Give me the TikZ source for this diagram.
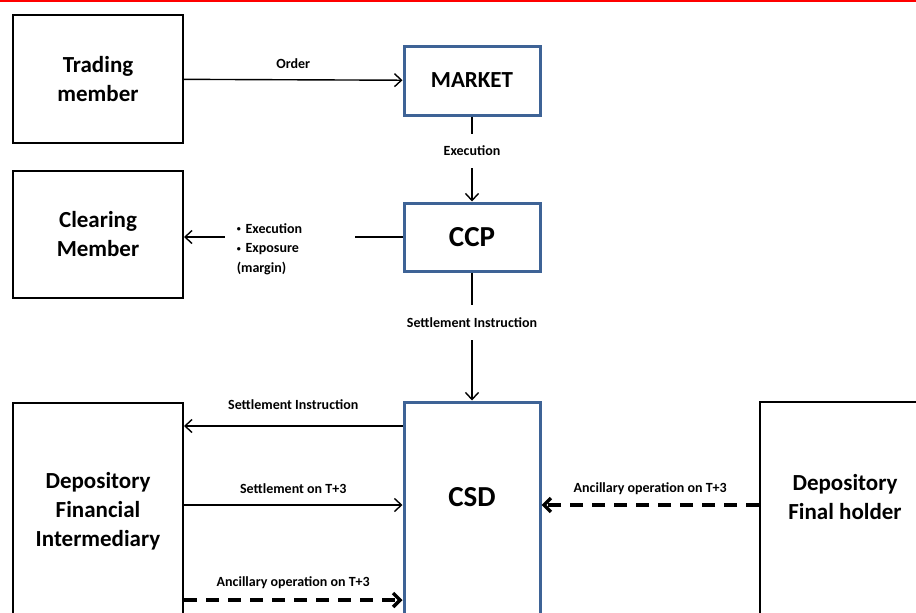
\documentclass[tikz,border=0pt]{standalone}
\usepackage{fontspec}
\setmainfont{Carlito}
\usetikzlibrary{arrows.meta,calc}
\definecolor{boxblue}{RGB}{62,99,150}
\newcommand{\smallbul}{\raisebox{0.25ex}{\fontsize{8}{8}\selectfont•}\hspace{0.35em}}
\begin{document}
\begin{tikzpicture}[x=1pt,y=-1pt,
  boxfont/.style={font=\bfseries\fontsize{23}{29}\selectfont},
  bigfont/.style={font=\bfseries\fontsize{29}{34}\selectfont},
  lbl/.style={font=\bfseries\fontsize{14}{19.5}\selectfont},
  blackbox/.style={draw=black,line width=2pt,minimum width=170pt,align=center,inner sep=0pt,boxfont},
  bluebox/.style={draw=boxblue,line width=3pt,minimum width=136pt,inner sep=0pt},
  arr/.style={line width=1.4pt,-{Straight Barb[length=7pt,width=13pt]}},
  dasharr/.style={line width=3.5pt,dash pattern=on 13pt off 9pt,-{Straight Barb[length=7pt,width=14pt]}},
  gaplbl/.style={lbl,fill=white,inner sep=0pt}
]
\useasboundingbox (0,0) rectangle (916,613);
\clip (0,0) rectangle (916,613);
\fill[white] (0,0) rectangle (916,613);
% red top rule
\draw[red,line width=2pt] (0,1) -- (916,1);

% boxes
\node[blackbox,minimum height=128pt] (trade) at (98,79) {Trading\\member};
\node[blackbox,minimum height=127pt] (clear) at (98,234.5) {Clearing\\Member};
\node[blackbox,minimum height=216pt] (dfi) at (98,511) {Depository\\Financial\\Intermediary};
\node[bluebox,minimum height=69pt,boxfont] (market) at (472,80.5) {MARKET};
\node[bluebox,minimum height=68pt,bigfont] (ccp) at (472,237) {CCP};
\node[bluebox,minimum height=240pt] (csd) at (472,522) {};
\node[bigfont] (csdtxt) at (472,497) {CSD};
\node[blackbox,minimum height=240pt] (fh) at (845,522) {};
\node[boxfont,align=center] (fhtxt) at (845,497) {Depository\\Final holder};

% helper heights
\coordinate (ySI) at (0,426);
\coordinate (yT) at (0,505);
\coordinate (yA) at (0,600);

% connectors
\draw[arr] (trade) -- node[lbl,midway,yshift=16pt] {Order} (market);
\draw[arr] (market) -- node[gaplbl,pos=0.40,minimum height=34pt] {Execution} (ccp);
\draw[arr] (ccp.west) -- node[lbl,fill=white,pos=0.516,yshift=-12pt,text width=106pt,inner xsep=12pt,inner ysep=2pt,align=left] {\smallbul Execution\\\smallbul Exposure\\(margin)} (ccp.west -| clear.east);
\draw[arr] (ccp) -- node[gaplbl,pos=0.393,minimum height=35pt] {Settlement Instruction} (csd);
\draw[arr] (csd.west |- ySI) -- node[lbl,midway,yshift=21pt] {Settlement Instruction} (dfi.east |- ySI);
\draw[arr] (dfi.east |- yT) -- node[lbl,midway,yshift=16pt] {Settlement on T+3} (csd.west |- yT);
\draw[dasharr] (dfi.east |- yA) -- node[lbl,midway,yshift=17pt] {Ancillary operation on T+3} (csd.west |- yA);
\draw[dasharr] (fh.west |- yT) -- node[lbl,midway,yshift=16pt] {Ancillary operation on T+3} (csd.east |- yT);
\end{tikzpicture}
\end{document}
